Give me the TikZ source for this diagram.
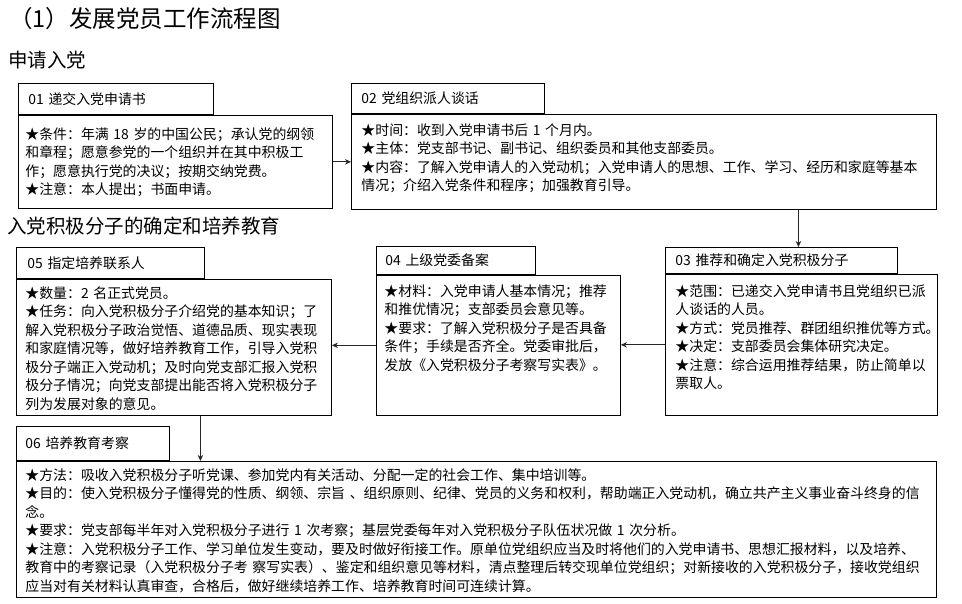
\documentclass[tikz,border=0pt]{standalone}
\usepackage{fontspec}
\setmainfont{Noto Sans CJK SC}
\usepackage{tikz}
\usetikzlibrary{arrows.meta, positioning}
\newcommand{\flowfont}{\fontsize{13.9}{18.5}\selectfont}

\begin{document}
\begin{tikzpicture}[
    x=1pt, y=-1pt,
    headbox/.style={draw, line width=0.9pt, anchor=north west, align=left,
                    font=\flowfont, inner ysep=0pt},
    bodybox/.style={draw, line width=0.9pt, anchor=north west, align=left,
                    font=\flowfont, inner ysep=0pt},
    flow/.style={-{Stealth[length=6pt, width=5.5pt]}, line width=1pt, black!85},
    sect/.style={anchor=west, inner sep=0pt, font=\fontsize{19.5}{20}\selectfont}
  ]
  \useasboundingbox (0,0) rectangle (962,604);

  \node[anchor=west, inner sep=0pt, font=\fontsize{23.5}{24}\selectfont] (title) at (9,19) {（1）发展党员工作流程图};
  \node[sect] (s1) at (8,60) {申请入党};
  \node[sect] (s2) at (7,226) {入党积极分子的确定和培养教育};

  \node[headbox, inner xsep=10pt, text width=175pt, minimum height=31pt] (h1) at (18,83) {01 递交入党申请书};
  \node[bodybox, inner xsep=7pt, text width=300pt, text height=24pt, text depth=69pt] (b1) at (h1.south west)
    {★条件：年满 18 岁的中国公民；承认党的纲领\\和章程；愿意参党的一个组织并在其中积极工\\作；愿意执行党的决议；按期交纳党费。\\★注意：本人提出；书面申请。};

  \node[headbox, inner xsep=10pt, text width=173pt, minimum height=30pt] (h2) at (351,83) {02 党组织派人谈话};
  \node[bodybox, inner xsep=10pt, text width=565pt, text height=21pt, text depth=74pt] (b2) at (h2.south west)
    {★时间：收到入党申请书后 1 个月内。\\★主体：党支部书记、副书记、组织委员和其他支部委员。\\★内容：了解入党申请人的入党动机；入党申请人的思想、工作、学习、经历和家庭等基本\\情况；介绍入党条件和程序；加强教育引导。};

  \node[headbox, inner xsep=10pt, text width=212pt, minimum height=26pt] (h3) at (665,247) {03 推荐和确定入党积极分子};
  \node[bodybox, inner xsep=10pt, text width=252pt, text height=22pt, text depth=119pt] (b3) at (h3.south west)
    {★范围：已递交入党申请书且党组织已派\\人谈话的人员。\\★方式：党员推荐、群团组织推优等方式。\\★决定：支部委员会集体研究决定。\\★注意：综合运用推荐结果，防止简单以\\票取人。};

  \node[headbox, inner xsep=9pt, text width=141pt, minimum height=28pt] (h4) at (376,246) {04 上级党委备案};
  \node[bodybox, inner xsep=8pt, text width=228pt, text height=21pt, text depth=119pt] (b4) at (h4.south west)
    {★材料：入党申请人基本情况；推荐\\和推优情况；支部委员会意见等。\\★要求：了解入党积极分子是否具备\\条件；手续是否齐全。党委审批后，\\发放《入党积极分子考察写实表》。};

  \node[headbox, inner xsep=11pt, text width=166pt, minimum height=31pt] (h5) at (16,247) {05 指定培养联系人};
  \node[bodybox, inner xsep=9pt, text width=297pt, text height=19pt, text depth=117pt] (b5) at (h5.south west)
    {★数量：2 名正式党员。\\★任务：向入党积极分子介绍党的基本知识；了\\解入党积极分子政治觉悟、道德品质、现实表现\\和家庭情况等，做好培养教育工作，引导入党积\\极分子端正入党动机；及时向党支部汇报入党积\\极分子情况；向党支部提出能否将入党积极分子\\列为发展对象的意见。};

  \node[headbox, inner xsep=9pt, text width=135pt, minimum height=34pt] (h6) at (16,426) {06 培养教育考察};
  \node[bodybox, inner xsep=9pt, text width=902pt, text height=19pt, text depth=117pt] (b6) at (h6.south west)
    {★方法：吸收入党积极分子听党课、参加党内有关活动、分配一定的社会工作、集中培训等。\\★目的：使入党积极分子懂得党的性质、纲领、宗旨 、组织原则、纪律、党员的义务和权利，帮助端正入党动机，确立共产主义事业奋斗终身的信\\念。\\★要求：党支部每半年对入党积极分子进行 1 次考察；基层党委每年对入党积极分子队伍状况做 1 次分析。\\★注意：入党积极分子工作、学习单位发生变动，要及时做好衔接工作。原单位党组织应当及时将他们的入党申请书、思想汇报材料，以及培养、\\教育中的考察记录（入党积极分子考 察写实表）、鉴定和组织意见等材料，清点整理后转交现单位党组织；对新接收的入党积极分子，接收党组织\\应当对有关材料认真审查，合格后，做好继续培养工作、培养教育时间可连续计算。};

  \draw[flow] (b1.east) -- (b1.east -| b2.west);
  \draw[flow] ([xshift=17pt]h3.north |- b2.south) -- ([xshift=17pt]h3.north);
  \draw[flow] (b3.west) -- (b3.west -| b4.east);
  \draw[flow] (b4.west) -- (b4.west -| b5.east);
  \draw[flow] ([xshift=26.5pt]b5.south) -- ([xshift=26.5pt]b5.south |- b6.north);
\end{tikzpicture}
\end{document}
